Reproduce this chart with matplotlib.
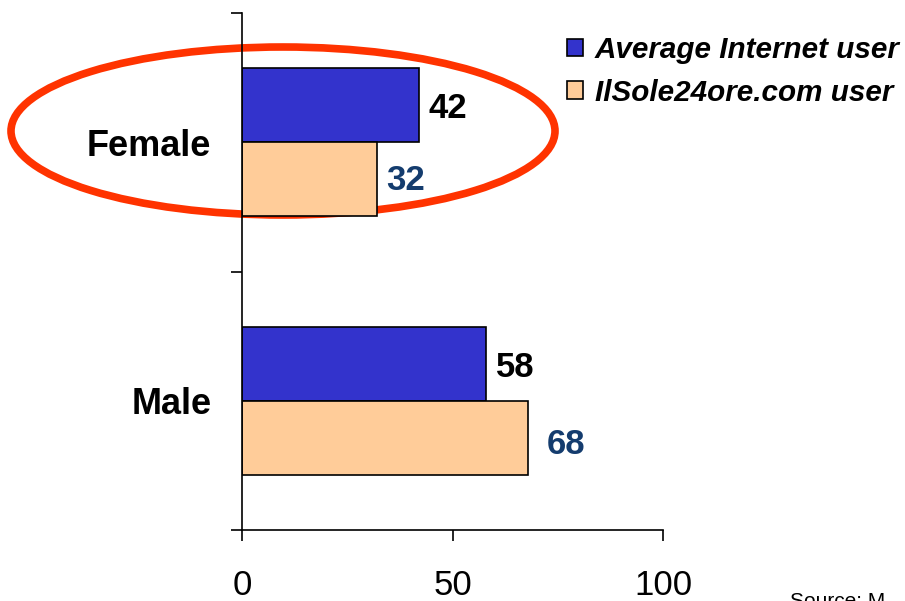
import numpy as np
import matplotlib
matplotlib.use("Agg")
import matplotlib.pyplot as plt
from matplotlib.patches import Ellipse

plt.rcParams["font.family"] = ["Liberation Sans", "DejaVu Sans"]

# ── data ────────────────────────────────────────────────────────────────
categories = ["Male", "Female"]
avg_internet = [58, 42]
sole24ore = [68, 32]
series_names = ["Average Internet user", "IlSole24ore.com user"]
x_ticks = [0, 50, 100]

blue = "#3333CC"
peach = "#FFCC99"
value_blue = "#143C6E"

fig = plt.figure(figsize=(9.05, 6.01), dpi=100)
ax = fig.add_axes([242 / 905, 71 / 601, 421 / 905, 517 / 601])

y = np.arange(len(categories))
h = 0.287

b1 = ax.barh(y + h / 2, avg_internet, height=h, color=blue,
             edgecolor="black", linewidth=1.2, zorder=2, label=series_names[0])
b2 = ax.barh(y - h / 2, sole24ore, height=h, color=peach,
             edgecolor="black", linewidth=1.2, zorder=2, label=series_names[1])

# value labels
for yy, v in zip(y + h / 2, avg_internet):
    ax.annotate(str(v), (v, yy), xytext=(7, -2.5), textcoords="offset points",
                ha="left", va="center", fontsize=25, fontweight="bold",
                color="black", annotation_clip=False)
for yy, v in zip(y - h / 2, sole24ore):
    dx, dy = (13, -5) if v > 50 else (7, -0.5)
    ax.annotate(str(v), (v, yy), xytext=(dx, dy), textcoords="offset points",
                ha="left", va="center", fontsize=25, fontweight="bold",
                color=value_blue, annotation_clip=False)

# category labels
for yy, c in zip(y, categories):
    ax.annotate(c, (0, yy), xytext=(-22, -3), textcoords="offset points",
                ha="right", va="center", fontsize=26, fontweight="bold",
                annotation_clip=False)

ax.set_xlim(0, 100)
ax.set_ylim(-0.5, 1.5)
ax.set_xticks(x_ticks)
ax.set_yticks([-0.5, 0.5, 1.5])
ax.set_yticklabels([])
ax.tick_params(axis="x", direction="out", length=8, width=1.2,
               labelsize=25, pad=20)
ax.tick_params(axis="y", direction="out", length=8, width=1.2)
for s in ["top", "right"]:
    ax.spines[s].set_visible(False)
for s in ["left", "bottom"]:
    ax.spines[s].set_linewidth(1.2)

# red highlight ellipse around Female
ell = Ellipse((283 / 905, 1 - 131 / 601), 544 / 905, 168 / 601,
              transform=fig.transFigure, fill=False, edgecolor="#FF3300",
              linewidth=5.5, zorder=1, clip_on=False)
ax.add_patch(ell)

leg = ax.legend(handles=[b1, b2], loc="upper left",
                bbox_to_anchor=(567 / 905, 1 - 36 / 601),
                bbox_transform=fig.transFigure, frameon=False,
                prop={"size": 21.3, "weight": "bold", "style": "italic"},
                handlelength=0.55, handleheight=0.55, handletextpad=0.4,
                labelspacing=0.5, borderpad=0, borderaxespad=0)

fig.text(790 / 905, 1 - 607 / 601, "Source: M", fontsize=15, va="baseline")

plt.savefig("out.png", dpi=100)
